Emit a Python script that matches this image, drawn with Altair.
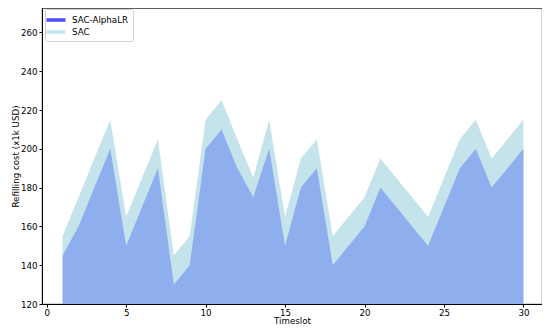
import altair as alt
import pandas as pd

timeslot = list(range(1, 31))
sac_alphalr = [145, 160, 180, 200, 150, 170, 190, 130, 140, 200,
               210, 190, 175, 200, 150, 180, 190, 140, 150, 160,
               180, 170, 160, 150, 170, 190, 200, 180, 190, 200]
sac = [155, 175, 195, 215, 165, 185, 205, 145, 155, 215,
       225, 205, 185, 215, 165, 195, 205, 155, 165, 175,
       195, 185, 175, 165, 185, 205, 215, 195, 205, 215]
series_names = ["SAC-AlphaLR", "SAC"]
legend_colors = ["#4d4dff", "#c6e4ed"]
area_colors = ["#8faeed", "#c5e3ea"]

df_sac = pd.DataFrame({"Timeslot": timeslot, "value": sac})
df_alpha = pd.DataFrame({"Timeslot": timeslot, "value": sac_alphalr})
df_leg = pd.DataFrame({"series": series_names, "Timeslot": [1, 1], "value": [150, 150]})

FONT = "DejaVu Sans"
FS = 8.7

xs = alt.Scale(domain=[-0.296, 31.17], nice=False, zero=False)
ys = alt.Scale(domain=[120, 272.6], nice=False, zero=False)

xax = alt.Axis(values=[0, 5, 10, 15, 20, 25, 30], grid=False, tickSize=3,
               labelFontSize=FS, titleFontSize=FS, labelFont=FONT, titleFont=FONT,
               titleFontWeight="normal", labelColor="black", titleColor="black",
               domainColor="black", tickColor="black", labelPadding=1, titlePadding=0,
               labelFlush=False)
yax = alt.Axis(values=[120, 140, 160, 180, 200, 220, 240, 260], grid=False, tickSize=3,
               labelFontSize=FS, titleFontSize=FS, labelFont=FONT, titleFont=FONT,
               titleFontWeight="normal", labelColor="black", titleColor="black",
               domainColor="black", tickColor="black", labelPadding=2, titlePadding=0,
               labelFlush=False)

base_x = alt.X("Timeslot:Q", scale=xs, axis=xax, title="Timeslot")
base_y = alt.Y("value:Q", scale=ys, axis=yax, title="Refilling cost (x1k USD)", stack=None)

a_sac = alt.Chart(df_sac).mark_area(color=area_colors[1], opacity=1, clip=True).encode(
    x=base_x, y=base_y)
a_alpha = alt.Chart(df_alpha).mark_area(color=area_colors[0], opacity=1, clip=True).encode(
    x=alt.X("Timeslot:Q", scale=xs), y=alt.Y("value:Q", scale=ys, stack=None))

leg = alt.Chart(df_leg).mark_square(opacity=0, size=1).encode(
    x=alt.X("Timeslot:Q", scale=xs),
    y=alt.Y("value:Q", scale=ys),
    color=alt.Color("series:N",
                    scale=alt.Scale(domain=series_names, range=legend_colors),
                    legend=alt.Legend(title=None, orient="none", legendX=3, legendY=1,
                                      symbolType="M-1.357,-0.25L1.357,-0.25L1.357,0.25L-1.357,0.25Z",
                                      symbolSize=196, symbolOpacity=1,
                                      symbolStrokeWidth=0,
                                      labelFont=FONT, labelFontSize=FS, labelColor="black",
                                      rowPadding=0, padding=4, labelOffset=9,
                                      strokeColor="#d0d0d0", fillColor="white",
                                      cornerRadius=2)))

chart = alt.layer(a_sac, a_alpha, leg).properties(
    width=500, height=296,
    autosize=alt.AutoSizeParams(type="none"),
    padding={"left": 34, "top": 0, "right": 0, "bottom": 21},
).configure_view(stroke="black", strokeWidth=0.8)

chart.save("out.html", embed_options={"renderer": "svg", "actions": False})
